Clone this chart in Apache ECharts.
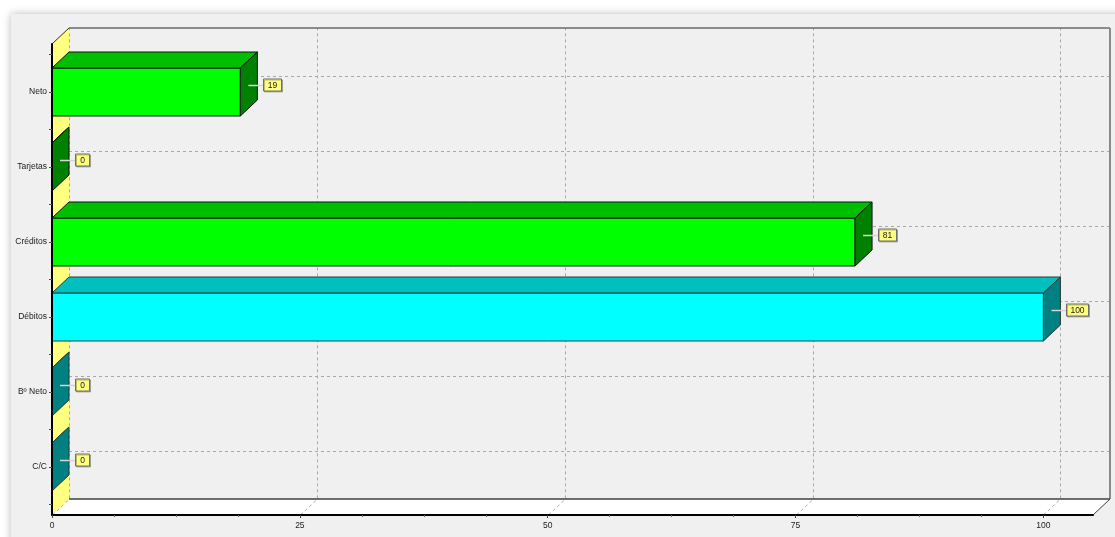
<!DOCTYPE html>
<html>
<head>
<meta charset="utf-8">
<title>Resumen</title>
<script src="https://cdn.jsdelivr.net/npm/echarts@6/dist/echarts.min.js"></script>
<style>
  html, body { margin: 0; padding: 0; background: #ffffff; }
  #chart { width: 1115px; height: 537px; }
</style>
</head>
<body>
<div id="chart"></div>
<script>
// Categories listed from bottom to top of the vertical axis
const categories = ['C/C', 'Bº Neto', 'Débitos', 'Créditos', 'Tarjetas', 'Neto'];
const values = [0, 0, 100, 81, 0, 19];
const barGroups = ['debit', 'debit', 'debit', 'credit', 'credit', 'credit'];
const xTicks = [0, 25, 50, 75, 100];

const palette = {
  credit: { front: '#00ff00', top: '#00bf00', side: '#008000', edge: '#101010' },
  debit:  { front: '#00ffff', top: '#00bfbf', side: '#008080', edge: '#2c3c3c' }
};

// Depth of the pseudo-3D box (pixels to the right / upwards)
const DX = 17, DY = 16;
const FONT = "'Liberation Sans', Arial, sans-serif";

const chart = echarts.init(document.getElementById('chart'), null, { renderer: 'canvas' });

// Walls, floor and dashed grid of the 3D box
function renderFrame(params, api) {
  const cs = params.coordSys;
  const L = cs.x, R = cs.x + cs.width, T = cs.y, B = cs.y + cs.height;
  const kids = [];
  kids.push({ type: 'rect', shape: { x: L + DX, y: T - DY, width: R - L, height: B - T },
              style: { fill: '#f0f0f0' } });
  kids.push({ type: 'polygon', shape: { points: [[L, B], [R, B], [R + DX, B - DY], [L + DX, B - DY]] },
              style: { fill: '#ffffff' } });
  kids.push({ type: 'polygon', shape: { points: [[L, B], [L, T], [L + DX, T - DY], [L + DX, B - DY]] },
              style: { fill: '#ffff80' } });
  categories.forEach((c, i) => {
    const y = Math.round(api.coord([0, i])[1] - DY) + 0.5;
    kids.push({ type: 'line', shape: { x1: L + DX, y1: y, x2: R + DX, y2: y },
                style: { stroke: '#a8a8a8', lineWidth: 1, lineDash: [3, 3] } });
  });
  xTicks.forEach(t => {
    const x = Math.round(api.coord([t, 0])[0]) + 0.5;
    kids.push({ type: 'polyline', shape: { points: [[x, B], [x + DX, B - DY], [x + DX, T - DY]] },
                style: { stroke: '#a8a8a8', fill: null, lineWidth: 1, lineDash: [3, 3] } });
  });
  kids.push({ type: 'line', shape: { x1: L + DX, y1: T - DY, x2: R + DX, y2: T - DY },
              style: { stroke: '#6a6a6a', lineWidth: 1.5 } });
  kids.push({ type: 'line', shape: { x1: R + DX, y1: T - DY, x2: R + DX, y2: B - DY },
              style: { stroke: '#8a8a8a', lineWidth: 2 } });
  kids.push({ type: 'line', shape: { x1: L + DX, y1: B - DY, x2: R + DX, y2: B - DY },
              style: { stroke: '#404040', lineWidth: 1.5 } });
  kids.push({ type: 'line', shape: { x1: R, y1: B, x2: R + DX, y2: B - DY },
              style: { stroke: '#404040', lineWidth: 1 } });
  kids.push({ type: 'line', shape: { x1: L, y1: T, x2: L + DX, y2: T - DY },
              style: { stroke: '#303030', lineWidth: 1 } });
  return { type: 'group', children: kids };
}

// One 3D bar (front, top and side faces) plus its value marker
function renderBar(params, api) {
  const idx = api.value(0);
  const v = api.value(1);
  const base = api.coord([0, idx]);
  const end = api.coord([v, idx]);
  const band = api.size([0, 1])[1];
  const h = band * 0.64;
  const x0 = base[0], x1 = end[0], yc = end[1];
  const top = yc - h / 2, bot = yc + h / 2;
  const col = palette[barGroups[params.dataIndex]];
  const edge = { stroke: col.edge, lineWidth: 1 };
  const kids = [];
  kids.push({ type: 'rect', shape: { x: x0, y: top, width: x1 - x0, height: h },
              style: Object.assign({ fill: col.front }, edge) });
  kids.push({ type: 'polygon', shape: { points: [[x0, top], [x1, top], [x1 + DX, top - DY], [x0 + DX, top - DY]] },
              style: Object.assign({ fill: col.top }, edge) });
  kids.push({ type: 'polygon', shape: { points: [[x1, top], [x1 + DX, top - DY], [x1 + DX, bot - DY], [x1, bot]] },
              style: Object.assign({ fill: col.side }, edge) });
  const txt = String(values[params.dataIndex]);
  const ly = Math.round(yc - 7) + 0.5;
  const bw = 4 * txt.length + 10;
  const bx = Math.round(x1 + 23) + 0.5;
  kids.push({ type: 'line', shape: { x1: x1 + 8, y1: ly, x2: x1 + 23, y2: ly },
              style: { stroke: '#d4d4d4', lineWidth: 1.5 } });
  kids.push({ type: 'rect', shape: { x: bx, y: Math.round(ly - 6.5), width: bw, height: 12 },
              style: { fill: '#ffff80', stroke: '#6e6e6e', lineWidth: 1,
                       shadowColor: 'rgba(0,0,0,0.25)', shadowOffsetX: 1, shadowOffsetY: 1 } });
  kids.push({ type: 'text', style: { x: bx + bw / 2, y: ly + 0.5, text: txt, fill: '#1a1a1a',
              font: '8.5px ' + FONT, align: 'center', verticalAlign: 'middle' } });
  return { type: 'group', children: kids };
}

const barData = categories.map((c, i) => [i, values[i]]);

chart.setOption({
  backgroundColor: '#ffffff',
  animation: false,
  graphic: [{
    type: 'rect', z: -10, left: 11, top: 14,
    shape: { width: 1120, height: 540 },
    style: { fill: '#f0f0f0', shadowColor: 'rgba(0,0,0,0.28)', shadowBlur: 8 }
  }],
  grid: { left: 52, right: 22, top: 44, bottom: 22, containLabel: false },
  xAxis: {
    type: 'value', min: 0, max: 105, interval: 25, z: 10,
    axisLine: { show: true, onZero: false, lineStyle: { color: '#000000', width: 2 } },
    axisTick: { show: true, length: 3, lineStyle: { color: '#404040' },
                customValues: xTicks },
    minorTick: { show: true, splitNumber: 4, length: 2, lineStyle: { color: '#606060' } },
    axisLabel: { color: '#222222', fontSize: 8.5, fontFamily: FONT, margin: 6,
                 customValues: xTicks },
    splitLine: { show: false }
  },
  yAxis: {
    type: 'value', min: -0.64, max: 5.64, z: 10,
    axisLine: { show: true, onZero: false, lineStyle: { color: '#000000', width: 2 } },
    axisTick: { show: true, length: 3, lineStyle: { color: '#505050' },
                customValues: [-0.5, 0, 0.5, 1, 1.5, 2, 2.5, 3, 3.5, 4, 4.5, 5, 5.5] },
    axisLabel: { color: '#1a1a1a', fontSize: 8.5, fontFamily: FONT, margin: 5,
                 customValues: categories.map((c, i) => i),
                 formatter: v => categories[Math.round(v)] },
    splitLine: { show: false }
  },
  series: [
    { type: 'custom', name: 'frame', z: 1, silent: true, clip: false,
      data: [[0, 0]], encode: { x: 1, y: 0 }, renderItem: renderFrame },
    { type: 'custom', name: 'valores', z: 3, clip: false,
      data: barData, encode: { x: 1, y: 0 }, renderItem: renderBar }
  ]
});
</script>
</body>
</html>
